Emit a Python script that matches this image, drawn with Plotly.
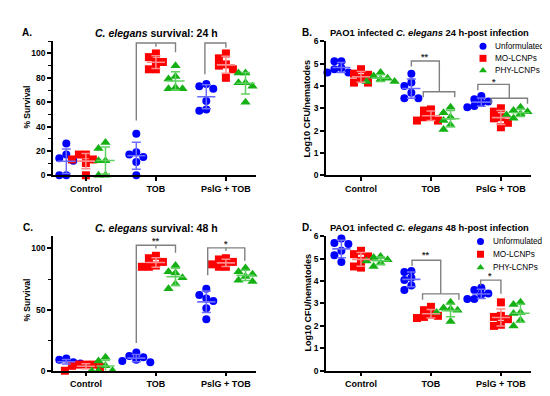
import numpy as np
import plotly.graph_objects as go

groups = ["Control", "TOB", "PslG + TOB"]
series = ["Unformulated", "MO-LCNPs", "PHY-LCNPs"]

# Panel A: C. elegans survival 24 h (%)
a_unformulated = [[0, 0, 12, 14, 17, 26], [0, 11, 15, 17, 19, 34], [53, 54, 61, 71, 73, 75]]
a_mo_lcnps = [[0, 10, 13, 13, 17, 17], [87, 87, 93, 93, 97, 100], [80, 87, 90, 91, 96, 100]]
a_phy_lcnps = [[0, 0, 12, 12, 22, 27], [71, 71, 72, 79, 81, 90], [60, 73, 76, 76, 84, 84]]

# Panel B: Log10 CFU/nematodes 24 h
b_unformulated = [[4.6, 4.6, 4.75, 4.8, 5.1, 5.1], [3.45, 3.45, 3.7, 4.0, 4.15, 4.55], [3.05, 3.1, 3.25, 3.3, 3.4, 3.55]]
b_mo_lcnps = [[4.15, 4.15, 4.35, 4.5, 4.55, 4.75], [2.45, 2.45, 2.6, 2.65, 2.9, 2.95], [2.15, 2.35, 2.55, 2.6, 2.85, 3.0]]
b_phy_lcnps = [[4.2, 4.2, 4.3, 4.35, 4.45, 4.6], [2.05, 2.25, 2.45, 2.6, 2.8, 3.05], [2.55, 2.7, 2.75, 2.85, 2.9, 3.05]]

# Panel C: C. elegans survival 48 h (%)
c_unformulated = [[5, 6, 7, 7, 9, 10], [7, 8, 9, 11, 12, 15], [42, 51, 57, 59, 62, 67]]
c_mo_lcnps = [[0, 3, 4, 5, 5, 5], [85, 85, 86, 89, 92, 94], [85, 85, 87, 89, 91, 92]]
c_phy_lcnps = [[0, 0, 0, 4, 8, 11], [67, 71, 76, 80, 81, 86], [73, 74, 77, 79, 81, 84]]

# Panel D: Log10 CFU/nematodes 48 h
d_unformulated = [[4.85, 5.15, 5.35, 5.65, 5.7, 5.9], [3.6, 3.8, 4.05, 4.15, 4.4, 4.45], [3.2, 3.2, 3.4, 3.45, 3.6, 3.7]]
d_mo_lcnps = [[4.6, 4.65, 4.9, 5.1, 5.2, 5.35], [2.35, 2.4, 2.45, 2.5, 2.7, 2.85], [2.0, 2.05, 2.3, 2.4, 2.45, 3.05]]
d_phy_lcnps = [[4.65, 4.8, 4.9, 4.95, 5.05, 5.1], [2.2, 2.6, 2.7, 2.75, 2.8, 3.05], [2.0, 2.25, 2.55, 2.6, 2.95, 3.05]]

titles = ["<b><i>C. elegans</i> survival: 24 h</b>",
          "<b>PAO1 infected <i>C. elegans</i> 24 h-post infection</b>",
          "<b><i>C. elegans</i> survival: 48 h</b>",
          "<b>PAO1 infected <i>C. elegans</i> 48 h-post infection</b>"]
letters = ["A.", "B.", "C.", "D."]
ytitles = ["% Survival", "Log10 CFU/nematodes", "% Survival", "Log10 CFU/nematodes"]

# significance brackets: (group index, polylines as (offset, y) lists, label, label offset, label y)
brackets_a = [(1, [[(-0.28, 45), (-0.28, 108.6), (0.28, 108.6), (0.28, 101)], [(0, 108.6), (0, 105.4)]], "**", 0.0, 113.4),
              (2, [[(-0.30, 83), (-0.30, 108.6), (0.0, 108.6), (0.0, 104.6)]], "*", -0.15, 111.0)]
brackets_b = [(1, [[(-0.28, 4.87), (-0.28, 5.12), (0.12, 5.12), (0.12, 3.74)], [(-0.11, 3.49), (-0.11, 3.74), (0.34, 3.74), (0.34, 3.49)]], "**", -0.08, 5.40),
              (2, [[(-0.33, 3.81), (-0.33, 4.07), (0.12, 4.07), (0.12, 3.45)], [(-0.14, 3.2), (-0.14, 3.45), (0.38, 3.45), (0.38, 3.2)]], "*", -0.10, 4.27)]
brackets_c = [(1, [[(-0.28, 22.6), (-0.28, 102.6), (0.28, 102.6), (0.28, 96.5)], [(0, 102.6), (0, 100)]], "**", 0.0, 107.5),
              (2, [[(-0.26, 78), (-0.26, 100.5), (0.27, 100.5), (0.27, 90)], [(0, 100.5), (0, 98)]], "*", 0.0, 105.0)]
brackets_d = [(1, [[(-0.27, 4.67), (-0.27, 4.93), (0.14, 4.93), (0.14, 3.43)], [(-0.12, 3.17), (-0.12, 3.43), (0.40, 3.43), (0.40, 3.17)]], "**", -0.07, 5.23),
              (2, [[(-0.29, 3.8), (-0.29, 4.04), (0.0, 4.04), (0.0, 3.43)]], "*", -0.15, 4.30)]

colors = ["#0000ff", "#ff0000", "#14b014"]
bar_colors = ["#6b6bff", "#ff8c8c", "#5fd05f"]
symbols = ["circle", "square", "triangle-up"]
msizes = [8, 8, 9]
FONT = "Liberation Sans, Arial, sans-serif"
W, H = 550, 396

panels = [
    dict(data=[a_unformulated, a_mo_lcnps, a_phy_lcnps], br=brackets_a, ymax=110, pxu=1.25,
         tickvals=[0, 20, 40, 60, 80, 100], minor=10, xr=[-0.47, 2.43],
         xd=[45, 248], yd=[29, 166.5]),
    dict(data=[b_unformulated, b_mo_lcnps, b_phy_lcnps], br=brackets_b, ymax=6, pxu=22.9,
         tickvals=[0, 1, 2, 3, 4, 5, 6], minor=None, xr=[-0.5, 2.43],
         xd=[318, 523], yd=[29, 166.5]),
    dict(data=[c_unformulated, c_mo_lcnps, c_phy_lcnps], br=brackets_c, ymax=110, pxu=1.25,
         tickvals=[0, 50, 100], minor=25, xr=[-0.47, 2.43],
         xd=[45, 248], yd=[229, 367]),
    dict(data=[d_unformulated, d_mo_lcnps, d_phy_lcnps], br=brackets_d, ymax=6, pxu=23.0,
         tickvals=[0, 1, 2, 3, 4, 5, 6], minor=None, xr=[-0.5, 2.43],
         xd=[318, 523], yd=[229, 367]),
]

SUB = [-0.28, 0.0, 0.28]
PX_X = 70.0


def swarm(vals, pxu, d=7.0):
    placed = []
    offs = [0.0] * len(vals)
    order = sorted(range(len(vals)), key=lambda i: -vals[i])
    for i in order:
        y = vals[i] * pxu
        for k in [0, -1, 1, -2, 2, -3, 3]:
            dx = k * d
            if all((dx - px) ** 2 + (y - py) ** 2 >= (d * 0.95) ** 2 for px, py in placed):
                break
        placed.append((dx, y))
        offs[i] = dx / PX_X
    return offs


fig = go.Figure()
annotations = []
layout = dict(width=W, height=H, margin=dict(l=0, r=0, t=0, b=0),
              paper_bgcolor="white", plot_bgcolor="rgba(0,0,0,0)", showlegend=False,
              font=dict(family=FONT, color="black"))


def pp(x, y):
    return x / W, 1 - y / H


for p_i, p in enumerate(panels):
    n = "" if p_i == 0 else str(p_i + 1)
    xa, ya = "x" + n, "y" + n
    # points
    for s_i in range(3):
        xs, ys = [], []
        for g_i in range(3):
            vals = p["data"][s_i][g_i]
            offs = swarm(vals, p["pxu"])
            for v, o in zip(vals, offs):
                xs.append(g_i + SUB[s_i] + o)
                ys.append(v)
        fig.add_trace(go.Scatter(x=xs, y=ys, mode="markers", xaxis=xa, yaxis=ya,
                                 marker=dict(symbol=symbols[s_i], size=msizes[s_i], color=colors[s_i],
                                             line=dict(width=0)),
                                 cliponaxis=False, hoverinfo="skip"))
    # mean and SD
    for s_i in range(3):
        for g_i in range(3):
            vals = np.array(p["data"][s_i][g_i], dtype=float)
            m, sd = vals.mean(), vals.std(ddof=1)
            cx = g_i + SUB[s_i]
            fig.add_trace(go.Scatter(x=[cx - 0.13, cx + 0.13], y=[m, m], mode="lines", xaxis=xa, yaxis=ya,
                                     line=dict(color=bar_colors[s_i], width=1.6), hoverinfo="skip",
                                     cliponaxis=False))
            fig.add_trace(go.Scatter(x=[cx], y=[m], mode="markers", xaxis=xa, yaxis=ya,
                                     marker=dict(color="rgba(0,0,0,0)", size=1),
                                     error_y=dict(type="data", array=[sd], color=bar_colors[s_i],
                                                  thickness=1.5, width=4.5),
                                     hoverinfo="skip", cliponaxis=False))
    # brackets
    for g_i, lines, lab, lo, ly in p["br"]:
        for line in lines:
            fig.add_trace(go.Scatter(x=[g_i + o for o, _ in line], y=[v for _, v in line], mode="lines",
                                     xaxis=xa, yaxis=ya, line=dict(color="#808080", width=1.4),
                                     hoverinfo="skip", cliponaxis=False))
        annotations.append(dict(x=g_i + lo, y=ly, xref=xa, yref=ya, text="<b>" + lab + "</b>",
                                showarrow=False, yshift=-2, font=dict(size=9, color="#333333", family=FONT)))

    x0, x1 = p["xd"]
    yt, yb = p["yd"]
    layout["xaxis" + n] = dict(domain=[x0 / W, x1 / W], range=p["xr"], anchor=ya,
                               tickmode="array", tickvals=[0, 1, 2], ticktext=groups,
                               showline=True, linecolor="black", linewidth=1.5,
                               ticks="outside", ticklen=4, tickwidth=1.5, tickcolor="black",
                               showgrid=False, zeroline=False,
                               tickfont=dict(size=9, family=FONT, color="black", weight="bold"))
    yax = dict(domain=[1 - yb / H, 1 - yt / H], range=[0, p["ymax"]], anchor=xa,
               tickmode="array", tickvals=p["tickvals"],
               showline=True, linecolor="black", linewidth=1.5,
               ticks="outside", ticklen=4, tickwidth=1.5, tickcolor="black",
               showgrid=False, zeroline=False,
               tickfont=dict(size=8.5, family=FONT, color="black", weight="bold"))
    if p["minor"]:
        yax["minor"] = dict(tickmode="linear", tick0=0, dtick=p["minor"], ticks="outside", ticklen=3,
                            tickwidth=1.2, tickcolor="black", showgrid=False)
    layout["yaxis" + n] = yax

# text: letters, titles, y titles
letter_pos = [(12, 20), (292, 20), (13, 220), (292, 220)]
title_pos = [(148.5, 20.5), (422, 20.5), (148.5, 220.5), (422, 220.5)]
title_sizes = [10.5, 9.4, 10.5, 9.4]
ytitle_pos = [(19, 97), (299, 98), (19, 295), (299, 297)]
for i in range(4):
    x, y = pp(*letter_pos[i])
    annotations.append(dict(x=x, y=y, xref="paper", yref="paper", text="<b>" + letters[i] + "</b>",
                            showarrow=False, xanchor="left", yanchor="middle",
                            font=dict(size=10, family=FONT, color="black")))
    x, y = pp(*title_pos[i])
    annotations.append(dict(x=x, y=y, xref="paper", yref="paper", text=titles[i],
                            showarrow=False, xanchor="center", yanchor="middle",
                            font=dict(size=title_sizes[i], family=FONT, color="black")))
    x, y = pp(*ytitle_pos[i])
    annotations.append(dict(x=x, y=y, xref="paper", yref="paper", text="<b>" + ytitles[i] + "</b>",
                            showarrow=False, textangle=-90, xanchor="center", yanchor="middle",
                            font=dict(size=9 if i % 2 else 8.5, family=FONT, color="black")))

# manual legends (panels B and D) on an overlay pixel axis
leg_rows = [[(475, 34), (475, 46.5), (475, 59)], [(472.5, 234.5), (472.5, 247.5), (472.5, 261)]]
for rows in leg_rows:
    for s_i, (lx, ly) in enumerate(rows):
        fig.add_trace(go.Scatter(x=[lx], y=[ly], mode="markers", xaxis="x5", yaxis="y5",
                                 marker=dict(symbol=symbols[s_i], size=7, color=colors[s_i]),
                                 hoverinfo="skip", cliponaxis=False))
        x, y = pp(lx + 11, ly)
        annotations.append(dict(x=x, y=y, xref="paper", yref="paper", text=series[s_i],
                                showarrow=False, xanchor="left", yanchor="middle", borderpad=0,
                                font=dict(size=8.2, family=FONT, color="black")))
layout["xaxis5"] = dict(domain=[0, 1], range=[0, W], anchor="y5", visible=False, fixedrange=True)
layout["yaxis5"] = dict(domain=[0, 1], range=[H, 0], anchor="x5", visible=False, fixedrange=True)

layout["annotations"] = annotations
fig.update_layout(**layout)
fig.write_html("out.html")
